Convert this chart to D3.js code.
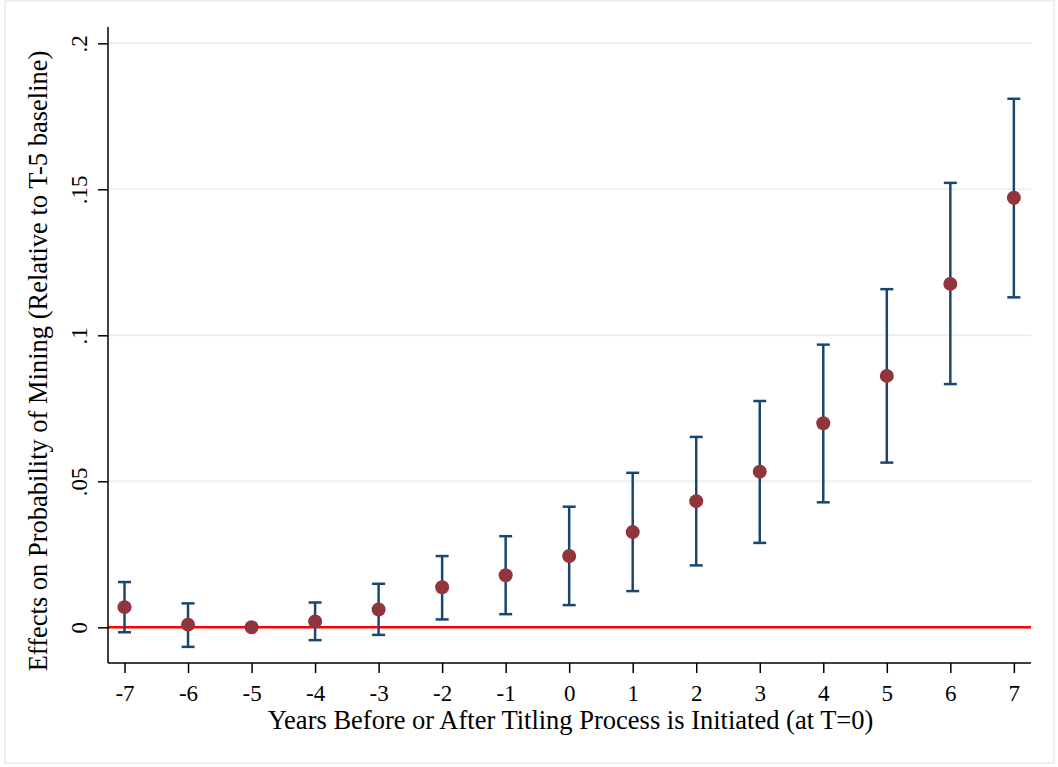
<!DOCTYPE html>
<html>
<head>
<meta charset="utf-8">
<script src="https://cdn.jsdelivr.net/npm/d3@7"></script>
<style>
  html, body { margin: 0; padding: 0; background: #fff; }
  svg { display: block; }
</style>
</head>
<body>
<div id="chart"></div>
<script>
// Event-study estimates, relative to T-5 baseline
const years = [-7, -6, -5, -4, -3, -2, -1, 0, 1, 2, 3, 4, 5, 6, 7];
const estimates = [0.0069, 0.0009, 0, 0.0020, 0.0061, 0.0137, 0.0178, 0.0244, 0.0326, 0.0432, 0.0533, 0.0699, 0.0861, 0.1176, 0.1471];
const ciLower = [-0.0017, -0.0067, null, -0.0044, -0.0026, 0.0027, 0.0045, 0.0076, 0.0124, 0.0212, 0.0289, 0.0428, 0.0564, 0.0833, 0.1130];
const ciUpper = [0.0155, 0.0082, null, 0.0085, 0.0149, 0.0244, 0.0312, 0.0413, 0.0529, 0.0652, 0.0775, 0.0968, 0.1158, 0.1522, 0.1810];
const yTicks = [0, 0.05, 0.1, 0.15, 0.2];
const yTickLabels = ['0', '.05', '.1', '.15', '.2'];

const WIDTH = 1058;
const HEIGHT = 767;
const PLOT = { left: 108, right: 1031, top: 27, bottom: 663 };
const FONT = '"Liberation Serif", "Times New Roman", serif';
const NAVY = '#1a476f';
const MAROON = '#90353b';
const GRID = '#e9f1f2';
const TICK_SIZE = 23;
const TITLE_SIZE = 26.5;

const rows = years.map((yr, i) => ({
  year: yr, est: estimates[i], lo: ciLower[i], hi: ciUpper[i]
}));

const x = d3.scaleLinear().domain([-7.26, 7.27]).range([PLOT.left, PLOT.right]);
const y = d3.scaleLinear().domain([0, 0.2]).range([627.3, 43.3]);

const svg = d3.select('#chart').append('svg')
  .attr('width', WIDTH)
  .attr('height', HEIGHT)
  .style('font-family', FONT);

// outer frame
svg.append('rect')
  .attr('x', 5).attr('y', 1)
  .attr('width', 1049).attr('height', 762)
  .attr('fill', '#fff')
  .attr('stroke', GRID)
  .attr('stroke-width', 2);

// gridlines
svg.append('g')
  .selectAll('line')
  .data(yTicks.filter((d) => d !== 0))
  .join('line')
  .attr('x1', PLOT.left).attr('x2', PLOT.right)
  .attr('y1', (d) => y(d)).attr('y2', (d) => y(d))
  .attr('stroke', GRID)
  .attr('stroke-width', 2);

// zero reference line
svg.append('line')
  .attr('x1', PLOT.left).attr('x2', PLOT.right)
  .attr('y1', y(0)).attr('y2', y(0))
  .attr('stroke', '#ff0000')
  .attr('stroke-width', 2.5);

// axes
const yAxis = d3.axisLeft(y)
  .tickValues(yTicks)
  .tickFormat((d, i) => yTickLabels[i])
  .tickSize(10);

const yAxisG = svg.append('g')
  .attr('transform', `translate(${PLOT.left},0)`)
  .call(yAxis);
yAxisG.select('.domain')
  .attr('d', `M0,${PLOT.top}V${PLOT.bottom}`)
  .attr('stroke', '#000').attr('stroke-width', 1.5);
yAxisG.selectAll('.tick line').attr('stroke', '#000').attr('stroke-width', 1.5);
yAxisG.selectAll('.tick text')
  .attr('font-family', FONT)
  .attr('font-size', TICK_SIZE)
  .attr('fill', '#000')
  .attr('x', null).attr('dy', null)
  .attr('text-anchor', 'middle')
  .attr('transform', 'translate(-21,0) rotate(-90)');

const xAxis = d3.axisBottom(x)
  .tickValues(years)
  .tickFormat((d) => String(d))
  .tickSize(10);

const xAxisG = svg.append('g')
  .attr('transform', `translate(0,${PLOT.bottom})`)
  .call(xAxis);
xAxisG.select('.domain')
  .attr('d', `M${PLOT.left},0H${PLOT.right}`)
  .attr('stroke', '#000').attr('stroke-width', 1.5);
xAxisG.selectAll('.tick line').attr('stroke', '#000').attr('stroke-width', 1.5);
xAxisG.selectAll('.tick text')
  .attr('font-family', FONT)
  .attr('font-size', TICK_SIZE)
  .attr('fill', '#000')
  .attr('dy', null)
  .attr('y', 38);

// axis titles
svg.append('text')
  .attr('x', (PLOT.left + PLOT.right) / 2 + 1)
  .attr('y', 729)
  .attr('text-anchor', 'middle')
  .attr('font-size', TITLE_SIZE)
  .text('Years Before or After Titling Process is Initiated (at T=0)');

svg.append('text')
  .attr('transform', `translate(47,361) rotate(-90)`)
  .attr('text-anchor', 'middle')
  .attr('font-size', TITLE_SIZE)
  .text('Effects on Probability of Mining (Relative to T-5 baseline)');

// confidence intervals
const ci = rows.filter((d) => d.lo !== null);
const capHalf = 6.5;
const bars = svg.append('g')
  .attr('stroke', NAVY)
  .attr('stroke-width', 2.5);

bars.selectAll('line.stem')
  .data(ci)
  .join('line')
  .attr('class', 'stem')
  .attr('x1', (d) => x(d.year)).attr('x2', (d) => x(d.year))
  .attr('y1', (d) => y(d.lo)).attr('y2', (d) => y(d.hi));

bars.selectAll('line.cap-hi')
  .data(ci)
  .join('line')
  .attr('class', 'cap-hi')
  .attr('x1', (d) => x(d.year) - capHalf).attr('x2', (d) => x(d.year) + capHalf)
  .attr('y1', (d) => y(d.hi)).attr('y2', (d) => y(d.hi));

bars.selectAll('line.cap-lo')
  .data(ci)
  .join('line')
  .attr('class', 'cap-lo')
  .attr('x1', (d) => x(d.year) - capHalf).attr('x2', (d) => x(d.year) + capHalf)
  .attr('y1', (d) => y(d.lo)).attr('y2', (d) => y(d.lo));

// point estimates
svg.append('g')
  .selectAll('circle')
  .data(rows)
  .join('circle')
  .attr('cx', (d) => x(d.year))
  .attr('cy', (d) => y(d.est))
  .attr('r', 7)
  .attr('fill', MAROON);
</script>
</body>
</html>
